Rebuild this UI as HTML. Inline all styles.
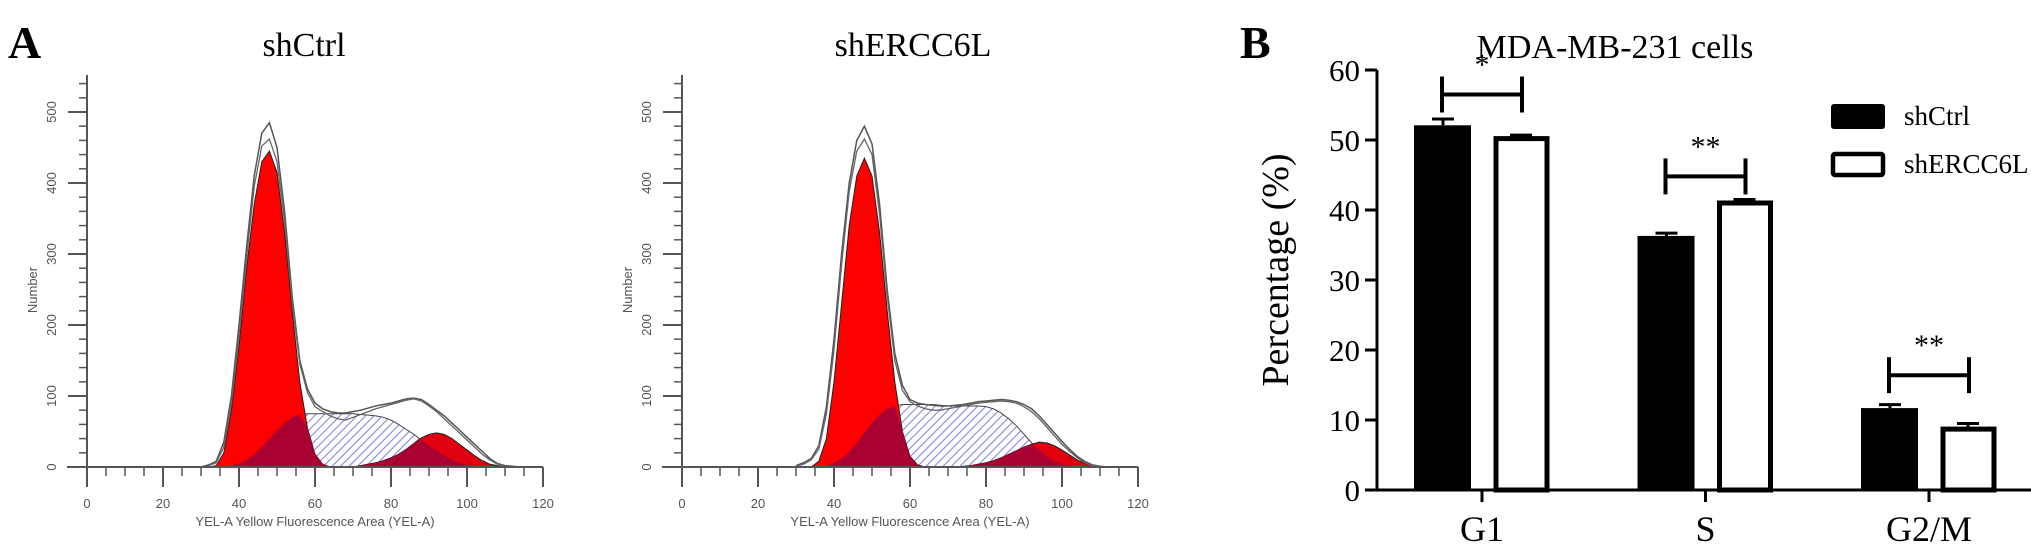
<!DOCTYPE html>
<html><head><meta charset="utf-8">
<style>
html,body{margin:0;padding:0;background:#fff;}
svg{display:block;}
text{font-family:"Liberation Serif",serif;}
.sm{font-family:"Liberation Sans",sans-serif;fill:#555;font-size:13px;}
</style></head>
<body>
<svg id="fig" width="2031" height="560" viewBox="0 0 2031 560" xmlns="http://www.w3.org/2000/svg">
<defs>
<pattern id="hatchS" patternUnits="userSpaceOnUse" width="6" height="6" patternTransform="rotate(45)">
<rect width="6" height="6" fill="#fff"/><line x1="0" y1="0" x2="0" y2="6" stroke="#7f7fe0" stroke-width="2"/>
</pattern>
<pattern id="hatchD" patternUnits="userSpaceOnUse" width="6" height="6" patternTransform="rotate(45)">
<line x1="0" y1="0" x2="0" y2="6" stroke="#6a1040" stroke-width="2"/>
</pattern>
</defs>
<text x="8" y="58" font-size="46" font-weight="bold">A</text>
<text x="1240" y="58" font-size="46" font-weight="bold">B</text>
<text x="304" y="56" font-size="34" text-anchor="middle">shCtrl</text>
<text x="913" y="56" font-size="34" text-anchor="middle">shERCC6L</text>
<g id="h1"></g>
<g id="h2"></g>
<g id="bar"></g>
</svg>
<script>
// Histogram x sample positions (fluorescence units)
const histX = [30,32,34,36,38,40,42,44,46,48,50,52,54,56,58,60,62,64,66,68,70,72,74,76,78,80,82,84,86,88,90,92,94,96,98,100,102,104,106,108,110,112,114,116];
// shCtrl
const ctrlG1  = [0,0,2,20,80,170,280,370,430,445,415,330,220,120,55,18,4,0,0,0,0,0,0,0,0,0,0,0,0,0,0,0,0,0,0,0,0,0,0,0,0,0,0,0];
const ctrlS   = [0,0,0,0,2,5,10,18,28,40,52,62,70,74,75,75,75,75,75,75,75,74,73,72,70,66,60,53,46,38,30,23,16,10,6,3,1,0,0,0,0,0,0,0];
const ctrlG2  = [0,0,0,0,0,0,0,0,0,0,0,0,0,0,0,0,0,0,0,0,0,2,4,6,9,13,18,25,33,41,46,48,46,40,32,24,16,9,4,2,0,0,0,0];
const ctrlRaw1= [0,3,8,35,100,200,310,410,470,485,450,360,240,150,110,90,82,78,76,76,78,80,83,86,88,90,93,96,97,95,88,80,72,62,52,42,32,22,12,5,2,1,0,0];
const ctrlRaw2= [0,2,6,28,90,185,295,395,452,462,430,345,232,145,105,85,78,72,68,66,70,74,78,82,85,88,91,94,96,93,86,78,68,58,48,38,28,18,10,4,1,0,0,0];
// shERCC6L
const ercG1   = [0,0,0,8,40,120,230,340,410,435,410,330,220,120,50,15,3,0,0,0,0,0,0,0,0,0,0,0,0,0,0,0,0,0,0,0,0,0,0,0,0,0,0,0];
const ercS    = [0,0,0,0,2,6,12,22,34,48,62,74,82,86,88,88,88,88,88,87,86,86,86,86,86,85,82,76,68,58,46,34,24,15,8,4,1,0,0,0,0,0,0,0];
const ercG2   = [0,0,0,0,0,0,0,0,0,0,0,0,0,0,0,0,0,0,0,0,0,0,1,2,4,6,9,13,18,23,28,32,35,34,30,24,17,10,5,2,0,0,0,0];
const ercRaw1 = [2,6,12,30,85,180,300,400,460,480,455,370,250,160,115,95,90,88,87,86,86,87,88,90,92,93,94,95,94,92,88,82,72,60,48,36,25,15,8,3,1,0,0,0];
const ercRaw2 = [1,4,10,25,75,165,285,388,445,462,440,355,240,150,108,92,86,82,80,80,82,84,86,88,90,91,92,93,92,90,85,78,68,56,44,32,22,13,6,2,1,0,0,0];
const histXTicks = [0,20,40,60,80,100,120];
const histYTicks = [100,200,300,400,500];

// Bar chart data
const categories = ["G1","S","G2/M"];
const shCtrlVals = [52.1,36.3,11.7];
const shCtrlErr  = [0.9,0.4,0.5];
const shERCCVals = [50.2,41.0,8.7];
const shERCCErr  = [0.5,0.5,0.8];
const sigLabels  = ["*","**","**"];
const sigLevels  = [56.5,44.8,16.4];
const barYTicks  = [0,10,20,30,40,50,60];

const NS="http://www.w3.org/2000/svg";
function mk(parent,tag,attrs,txt){const e=document.createElementNS(NS,tag);for(const k in attrs)e.setAttribute(k,attrs[k]);if(txt!==undefined)e.textContent=txt;parent.appendChild(e);return e;}

function drawHist(gid,ox,G1,S,G2,R1,R2,prefix){
  const g=document.getElementById(gid);
  const X=v=>ox+v*3.8, Y=v=>467-v*0.71;
  const area=(arr)=>{let d="M"+X(histX[0])+","+Y(0);histX.forEach((x,i)=>{d+=" L"+X(x)+","+Y(arr[i]);});d+=" L"+X(histX[histX.length-1])+","+Y(0)+"Z";return d;};
  const line=(arr)=>{let d="";histX.forEach((x,i)=>{d+=(i?" L":"M")+X(x)+","+Y(arr[i]);});return d;};
  let e;
  e=mk(g,"path",{d:area(S),fill:"url(#hatchS)",stroke:"#444","stroke-width":1});
  
  e=mk(g,"path",{d:area(G1),fill:"#f00",stroke:"#222","stroke-width":1});
  
  e=mk(g,"path",{d:area(G2),fill:"#e00010",stroke:"#222","stroke-width":1});
  
  const ov1=G1.map((v,i)=>Math.min(v,S[i])), ov2=G2.map((v,i)=>Math.min(v,S[i]));
  e=mk(g,"path",{d:area(ov1),fill:"#b00030",stroke:"none"});
  
  e=mk(g,"path",{d:area(ov2),fill:"#b00030",stroke:"none"});
  
  e=mk(g,"path",{d:area(ov1),fill:"url(#hatchD)",stroke:"none",opacity:0.6});
  
  e=mk(g,"path",{d:area(ov2),fill:"url(#hatchD)",stroke:"none",opacity:0.6});
  
  e=mk(g,"path",{d:line(R1),fill:"none",stroke:"#555","stroke-width":1.5});
  
  e=mk(g,"path",{d:line(R2),fill:"none",stroke:"#666","stroke-width":1.3});
  
  // axes
  e=mk(g,"line",{x1:ox-20,y1:Y(0),x2:X(120),y2:Y(0),stroke:"#555","stroke-width":2});
  
  e=mk(g,"line",{x1:ox,y1:Y(0)+20,x2:ox,y2:75,stroke:"#555","stroke-width":2});
  
  for(let v=5;v<=120;v+=5){const maj=histXTicks.includes(v);
    e=mk(g,"line",{x1:X(v),y1:Y(0),x2:X(v),y2:Y(0)+(maj?20:9),stroke:"#555","stroke-width":maj?2:1.5});
    }
  histXTicks.forEach(v=>{e=mk(g,"text",{x:X(v),y:Y(0)+41,"text-anchor":"middle",class:"sm"},String(v));
    });
  for(let v=20;v<=540;v+=20){const maj=histYTicks.includes(v);
    e=mk(g,"line",{x1:ox-(maj?19:8),y1:Y(v),x2:ox,y2:Y(v),stroke:"#555","stroke-width":maj?2:1.5});
    }
  [0].concat(histYTicks).forEach(v=>{e=mk(g,"text",{x:ox-31,y:Y(v),"text-anchor":"middle",class:"sm",transform:`rotate(-90 ${ox-31} ${Y(v)})`},String(v));
    });
  e=mk(g,"text",{x:ox-50,y:290,"text-anchor":"middle",class:"sm","font-size":"12",transform:`rotate(-90 ${ox-50} 290)`},"Number");
  
  e=mk(g,"text",{x:X(60),y:526,"text-anchor":"middle",class:"sm","font-size":"14"},"YEL-A Yellow Fluorescence Area (YEL-A)");
  
}
drawHist("h1",87,ctrlG1,ctrlS,ctrlG2,ctrlRaw1,ctrlRaw2,"shctrl");
drawHist("h2",682,ercG1,ercS,ercG2,ercRaw1,ercRaw2,"shercc6l");

(function(){
  const g=document.getElementById("bar");
  const Y=v=>490-v*7.0;
  const catX=i=>1482+i*223.5;
  let e;
  e=mk(g,"text",{x:1615,y:58,"text-anchor":"middle","font-size":"34"},"MDA-MB-231 cells");
  
  e=mk(g,"text",{x:1288,y:270,"text-anchor":"middle","font-size":"38",transform:"rotate(-90 1288 270)"},"Percentage (%)");
  
  barYTicks.forEach(v=>{
    e=mk(g,"line",{x1:1365,y1:Y(v),x2:1377,y2:Y(v),stroke:"#000","stroke-width":3});
    
    e=mk(g,"text",{x:1360,y:Y(v)+11,"text-anchor":"end","font-size":"31"},String(v));
    
  });
  categories.forEach((c,i)=>{
    const cx=catX(i);
    e=mk(g,"line",{x1:cx-39,y1:Y(shCtrlVals[i]+shCtrlErr[i]),x2:cx-39,y2:Y(shCtrlVals[i]),stroke:"#000","stroke-width":3});
    
    e=mk(g,"line",{x1:cx-50,y1:Y(shCtrlVals[i]+shCtrlErr[i]),x2:cx-28,y2:Y(shCtrlVals[i]+shCtrlErr[i]),stroke:"#000","stroke-width":3});
    
    e=mk(g,"line",{x1:cx+39,y1:Y(shERCCVals[i]+shERCCErr[i]),x2:cx+39,y2:Y(shERCCVals[i]),stroke:"#000","stroke-width":3});
    
    e=mk(g,"line",{x1:cx+28,y1:Y(shERCCVals[i]+shERCCErr[i]),x2:cx+50,y2:Y(shERCCVals[i]+shERCCErr[i]),stroke:"#000","stroke-width":3});
    
    e=mk(g,"rect",{x:cx-68,y:Y(shCtrlVals[i]),width:57,height:Y(0)-Y(shCtrlVals[i]),fill:"#000"});
    
    e=mk(g,"rect",{x:cx+14,y:Y(shERCCVals[i]),width:51,height:Y(0)-Y(shERCCVals[i]),fill:"#fff",stroke:"#000","stroke-width":5});
    
    const l=cx-40, r=cx+40, yl=Y(sigLevels[i]);
    e=mk(g,"line",{x1:l,y1:yl,x2:r,y2:yl,stroke:"#000","stroke-width":4});
    
    e=mk(g,"line",{x1:l,y1:yl-18,x2:l,y2:Math.min(Y(shCtrlVals[i]+shCtrlErr[i]),yl+18),stroke:"#000","stroke-width":4});
    
    e=mk(g,"line",{x1:r,y1:yl-18,x2:r,y2:Math.min(Y(shERCCVals[i]+shERCCErr[i]),yl+18),stroke:"#000","stroke-width":4});
    
    e=mk(g,"text",{x:cx,y:yl-20,"text-anchor":"middle","font-size":"30","font-family":"Liberation Sans,sans-serif"},sigLabels[i]);
    
    e=mk(g,"line",{x1:cx,y1:Y(0),x2:cx,y2:Y(0)+12,stroke:"#000","stroke-width":3});
    
    e=mk(g,"text",{x:cx,y:541,"text-anchor":"middle","font-size":"36"},c);
    
  });
  e=mk(g,"line",{x1:1377,y1:Y(60),x2:1377,y2:Y(0)+1.5,stroke:"#000","stroke-width":3});
  
  e=mk(g,"line",{x1:1366,y1:Y(0),x2:2031,y2:Y(0),stroke:"#000","stroke-width":3});
  
  e=mk(g,"rect",{x:1831,y:104,width:54,height:25,rx:3,fill:"#000"});
  
  e=mk(g,"text",{x:1904,y:125,"font-size":"27"},"shCtrl");
  
  e=mk(g,"rect",{x:1833,y:154,width:50,height:21,fill:"#fff",stroke:"#000","stroke-width":4.5,rx:2});
  
  e=mk(g,"text",{x:1904,y:173,"font-size":"27"},"shERCC6L");
  
})();
</script>
</body></html>
